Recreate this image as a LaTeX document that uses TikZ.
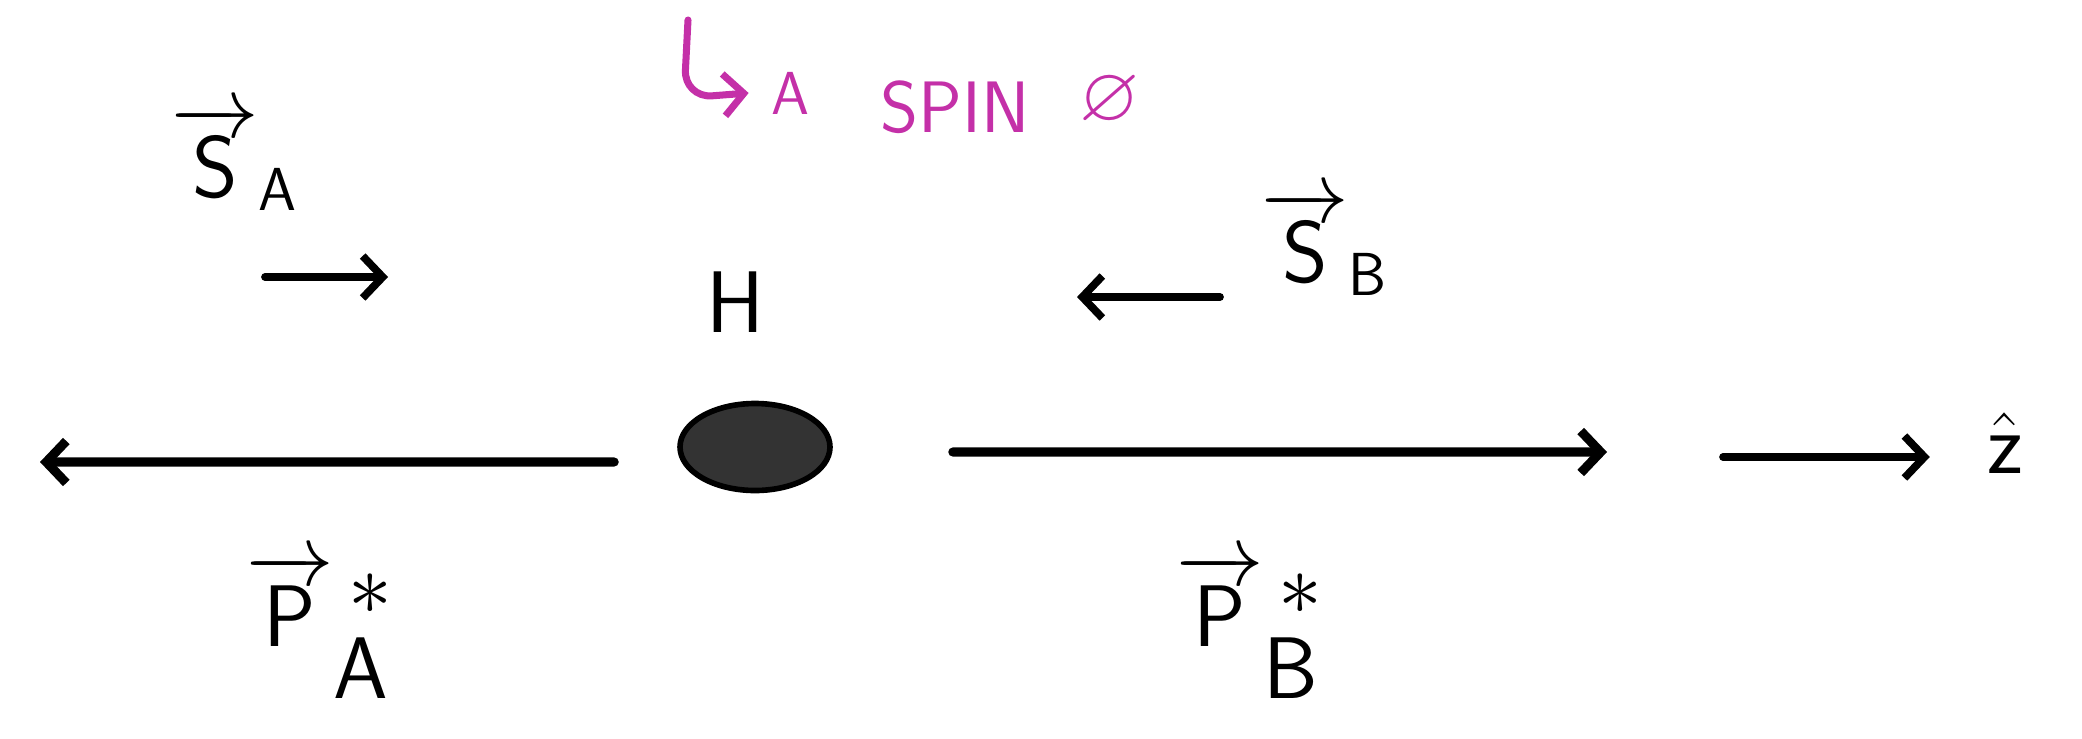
\documentclass[tikz,border=0pt]{standalone}
\usepackage{amsmath,amssymb}
\usepackage{xcolor}
\usetikzlibrary{arrows.meta, positioning, shapes.geometric}
\definecolor{penpink}{RGB}{196,48,168}

\begin{document}
\begin{tikzpicture}[
    pen/.style={line width=2.6pt, line cap=round, -{Straight Barb[length=2mm, width=4.2mm]}},
    thinpen/.style={pen, line width=2.2pt},
    spinlabel/.style={font=\fontsize{26}{30}\selectfont},
    momlabel/.style={font=\fontsize{40}{44}\selectfont},
    note/.style={penpink, font=\fontsize{22}{26}\selectfont}
  ]
  \useasboundingbox (0,0) rectangle (20.82,7.38);

  % The hadron H at rest
  \node[ellipse, fill=black!80, draw=black, line width=1.6pt,
        minimum width=1.5cm, minimum height=0.87cm] (hadron) at (7.55,2.91) {};
  \node[momlabel] (hname) at (7.35,4.36) {$\mathsf{H}$};

  % Note: a spin 0
  \coordinate (hooktop) at (6.88,7.18);
  \node[note, font=\fontsize{17}{20}\selectfont] (aword) at (7.90,6.45) {$\mathsf{A}$};
  \node[note] (spinword) at (9.55,6.31) {$\mathsf{SPIN}$};
  \node[note] (zeroword) at (11.10,6.37) {$\varnothing$};
  \draw[pen, penpink, line width=2pt, rounded corners=8pt]
    (hooktop) -- (6.84,6.40) -- ([xshift=-1mm]aword.west);

  % Spin of A
  \node[spinlabel] (sA) at (2.35,5.80) {${\overrightarrow{\mathsf{S}}}{}_{\mathsf{A}}$};
  \coordinate (sAtail) at (2.65,4.61);
  \coordinate (sAhead) at (3.88,4.61);
  \draw[thinpen] (sAtail) -- (sAhead);

  % Spin of B
  \node[spinlabel] (sB) at (13.25,4.95) {${\overrightarrow{\mathsf{S}}}{}_{\mathsf{B}}$};
  \coordinate (sBtail) at (12.20,4.41);
  \coordinate (sBhead) at (10.77,4.41);
  \draw[thinpen] (sBtail) -- (sBhead);

  % Momenta of the two daughters
  \coordinate (pAhead) at (0.40,2.76);
  \coordinate (pBhead) at (16.07,2.86);
  \draw[pen] ([xshift=-6.3mm, yshift=-1.5mm]hadron.west) -- (pAhead);
  \draw[pen] ([xshift=12mm, yshift=-0.5mm]hadron.east) -- (pBhead);
  \node[momlabel] (pA) at (3.20,1.12) {${\overrightarrow{\mathsf{P}}}{}^{\,*}_{\mathsf{A}}$};
  \node[momlabel] (pB) at (12.50,1.12) {${\overrightarrow{\mathsf{P}}}{}^{\,*}_{\mathsf{B}}$};

  % Axis
  \node[spinlabel, font=\fontsize{38}{42}\selectfont] (zhat) at (20.05,2.95) {$\hat{\mathsf{z}}$};
  \coordinate (ztail) at (17.23,2.81);
  \draw[thinpen] (ztail) -- ([xshift=-4.5mm]zhat.west |- ztail);
\end{tikzpicture}
\end{document}
